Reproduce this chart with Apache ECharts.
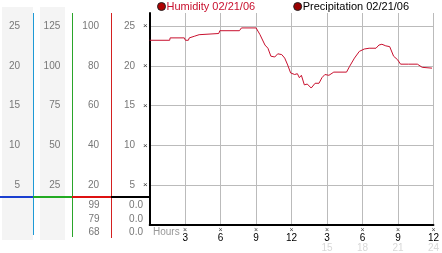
<!DOCTYPE html>
<html><head><meta charset="utf-8">
<script src="https://cdn.jsdelivr.net/npm/echarts@6/dist/echarts.min.js"></script>
<style>html,body{margin:0;padding:0;background:#fff}#c{width:442px;height:253px}</style>
</head><body><div id="c"></div>
<script>
// ---- data ----
const seriesNames = ['Humidity 02/21/06', 'Precipitation 02/21/06'];
const hours = [0, 1.69, 1.73, 2.93, 3.02, 3.27, 3.35, 3.77, 4.18, 4.26, 5.84, 5.93, 7.59, 7.76, 9.0, 9.33, 9.75, 10.0, 10.25, 10.58, 10.83, 11.17, 11.42, 11.67, 11.92, 12.26, 12.49, 12.66, 12.83, 13.08, 13.33, 13.66, 13.99, 14.32, 14.57, 14.82, 15.16, 15.57, 16.65, 16.9, 17.32, 17.73, 18.15, 18.56, 19.14, 19.39, 19.64, 19.97, 20.3, 20.63, 20.97, 21.22, 21.89, 22.64, 23.05, 23.88];
const humidity = [23.2, 23.2, 23.5, 23.5, 23.2, 23.2, 23.5, 23.7, 23.9, 24.05, 24.05, 24.4, 24.4, 24.75, 24.75, 23.9, 22.6, 22.2, 21.2, 21.1, 21.5, 21.4, 20.96, 20.1, 19.1, 18.9, 19.0, 18.5, 18.8, 17.6, 17.7, 17.2, 17.8, 17.8, 18.5, 18.9, 18.8, 19.2, 19.2, 19.9, 20.96, 21.8, 22.1, 22.2, 22.2, 22.6, 22.7, 22.5, 22.4, 21.2, 20.75, 20.2, 20.2, 20.2, 19.8, 19.7];
const precipitation = [];
const xTicks = [3, 6, 9, 12, 15, 18, 21, 24];
const xTopLabels = ['3', '6', '9', '12', '3', '6', '9', '12'];
const xBottomLabels = ['', '', '', '', '15', '18', '21', '24'];
const col1Ticks = [5, 10, 15, 20, 25];
const col2Ticks = [25, 50, 75, 100, 125];
const col3Ticks = [20, 40, 60, 80, 100];
const col4Ticks = [5, 10, 15, 20, 25];
const col3Stats = ['99', '79', '68'];
const col4Stats = ['0.0', '0.0', '0.0'];

// ---- chart ----
const FONT = 'Liberation Sans';
const YMAX = 26.625;
const chart = echarts.init(document.getElementById('c'), null, {renderer: 'canvas'});
function sideAxis(offset, mult, ticks, margin) {
  return {
    type: 'value', position: 'left', offset: offset,
    min: 0, max: YMAX * mult, interval: 5 * mult,
    axisLine: {show: false, lineStyle: {color: 'rgba(0,0,0,0)', width: 0}},
    axisTick: {show: false}, splitLine: {show: false}, minorTick: {show: false},
    axisLabel: {margin: margin, color: '#777', fontSize: 10, fontFamily: FONT,
      formatter: v => ticks.includes(v) ? String(v) : ''}
  };
}
const statTexts = [];
const statY = [205.5, 219, 232.5];
col3Stats.forEach((s, i) => statTexts.push({type: 'text', x: 99.5, y: statY[i],
  style: {text: s, fill: '#777', font: '10px ' + FONT, textAlign: 'right', textVerticalAlign: 'middle'}}));
col4Stats.forEach((s, i) => statTexts.push({type: 'text', x: 143, y: statY[i],
  style: {text: s, fill: '#777', font: '10px ' + FONT, textAlign: 'right', textVerticalAlign: 'middle'}}));

function vline(x, y2, color) {
  return {type: 'rect', z: 100, shape: {x: x, y: 13, width: 1, height: y2 - 13}, style: {fill: color}};
}
function hline(x1, x2, color) {
  return {type: 'rect', z: 100, shape: {x: x1, y: 196, width: x2 - x1, height: 2}, style: {fill: color}};
}

chart.setOption({
  animation: false,
  backgroundColor: '#fff',
  textStyle: {fontFamily: FONT},
  grid: {left: 149.7, right: 3.5, top: 13, bottom: 27, containLabel: false},
  legend: {
    left: 157, top: 1, padding: 0, icon: 'circle', itemWidth: 8, itemHeight: 8, itemGap: 38,
    textStyle: {fontSize: 11, fontFamily: FONT, padding: [0, 0, 0, -4]},
    itemStyle: {borderColor: '#222', borderWidth: 1},
    data: [
      {name: seriesNames[0], textStyle: {color: '#c8102e'}},
      {name: seriesNames[1], textStyle: {color: '#000'}}
    ]
  },
  xAxis: {
    type: 'value', min: 0, max: 24, interval: 3,
    axisLine: {lineStyle: {color: '#000', width: 2}},
    axisTick: {show: false},
    splitLine: {show: true, showMinLine: false, lineStyle: {color: '#bbb', width: 1}},
    axisLabel: {
      margin: 2, fontFamily: FONT,
      formatter: v => {
        const i = xTicks.indexOf(v);
        if (i < 0) return '';
        return '{t|\u00d7}\n{a|' + xTopLabels[i] + '}\n{b|' + (xBottomLabels[i] || ' ') + '}';
      },
      rich: {
        t: {fontSize: 7, lineHeight: 6, color: '#444', fontFamily: FONT},
        a: {fontSize: 10, lineHeight: 10, color: '#000', fontFamily: FONT},
        b: {fontSize: 10, lineHeight: 10, color: '#d8d8d8', fontFamily: FONT}
      }
    }
  },
  yAxis: [
    {
      type: 'value', min: 0, max: YMAX, interval: 5,
      axisLine: {show: true, lineStyle: {color: '#000', width: 2}},
      axisTick: {show: false},
      splitLine: {show: true, showMaxLine: false, lineStyle: {color: '#bbb', width: 1}},
      axisLabel: {
        margin: 2, color: '#777', fontSize: 10, fontFamily: FONT,
        formatter: v => col4Ticks.includes(v) ? v + '{s|}{t|\u00d7}' : '',
        rich: {s: {width: 8}, t: {fontSize: 8, color: '#333', fontFamily: FONT}}
      }
    },
    sideAxis(38.7, 4, col3Ticks, 12),
    sideAxis(77.4, 5, col2Ticks, 12),
    sideAxis(116.7, 1, col1Ticks, 13)
  ],
  graphic: [
    {type: 'rect', z: -10, shape: {x: 2, y: 7, width: 31, height: 233}, style: {fill: '#f4f4f4'}},
    {type: 'rect', z: -10, shape: {x: 40, y: 7, width: 25, height: 233}, style: {fill: '#f4f4f4'}},
    vline(33, 235, '#1e9ad6'),
    vline(72, 237, '#2aa52a'),
    vline(111, 238, '#d42020'),
    hline(0, 33, '#1a3fd0'),
    hline(33, 72, '#22aa22'),
    hline(72, 111, '#dd1111'),
    hline(111, 149, '#000'),
    {type: 'text', x: 153, y: 232, style: {text: 'Hours', fill: '#999', font: '10px ' + FONT, textVerticalAlign: 'middle'}}
  ].concat(statTexts),
  series: [
    {
      name: seriesNames[0], type: 'line', showSymbol: false, symbol: 'circle',
      color: '#b00000',
      lineStyle: {color: '#c8102e', width: 1},
      data: hours.map((h, i) => [h, humidity[i]])
    },
    {
      name: seriesNames[1], type: 'line', showSymbol: false, symbol: 'circle',
      color: '#990000',
      data: precipitation
    }
  ]
});
</script></body></html>
